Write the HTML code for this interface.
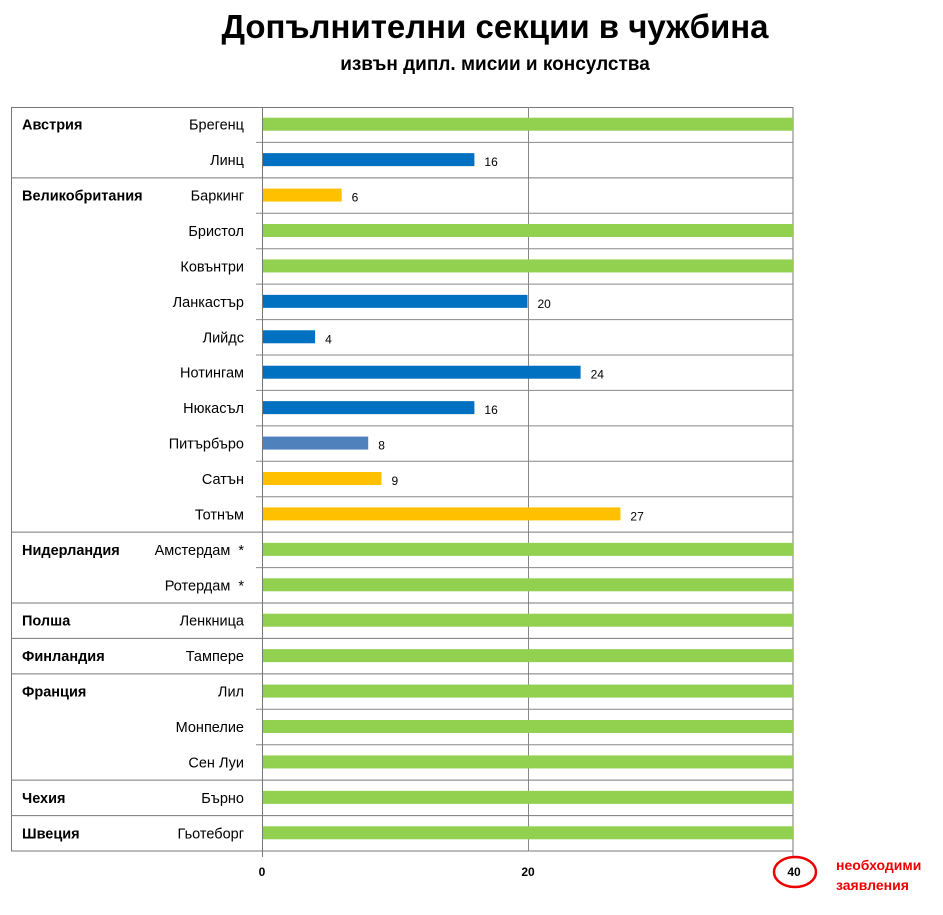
<!DOCTYPE html>
<html><head><meta charset="utf-8"><style>
body{margin:0;background:#fff;}
svg text{font-family:"Liberation Sans","DejaVu Sans",sans-serif;}
</style></head><body>
<svg width="943" height="910" xmlns="http://www.w3.org/2000/svg">
<text x="495" y="38" font-size="33" font-weight="bold" text-anchor="middle">Допълнителни секции в чужбина</text>
<text x="495" y="70" font-size="19" font-weight="bold" text-anchor="middle">извън дипл. мисии и консулства</text>
<g id="c"></g>
</svg>
<script>
(function(){
var rows=[["Австрия","Брегенц",40,"g"],["","Линц",16,"b"],["Великобритания","Баркинг",6,"y"],["","Бристол",40,"g"],["","Ковънтри",40,"g"],["","Ланкастър",20,"b"],["","Лийдс",4,"b"],["","Нотингам",24,"b"],["","Нюкасъл",16,"b"],["","Питърбъро",8,"p"],["","Сатън",9,"y"],["","Тотнъм",27,"y"],["Нидерландия","Амстердам  *",40,"g"],["","Ротердам  *",40,"g"],["Полша","Ленкница",40,"g"],["Финландия","Тампере",40,"g"],["Франция","Лил",40,"g"],["","Монпелие",40,"g"],["","Сен Луи",40,"g"],["Чехия","Бърно",40,"g"],["Швеция","Гьотеборг",40,"g"]];
var col={g:"#92d050",b:"#0070c0",y:"#ffc000",p:"#4f81bd"};
var t0=107,b0=851,h=(b0-t0)/21,sc=(793-262)/40;
var s='<rect x="11.5" y="107.5" width="781.5" height="743.5" fill="none" stroke="#777"/>';
s+='<line x1="528.5" y1="107" x2="528.5" y2="851" stroke="#888"/>';
rows.forEach(function(r,i){var y=t0+i*h,cy=y+h/2;
 if(i>0){ if(r[0]) s+='<line x1="11" y1="'+y+'" x2="793" y2="'+y+'" stroke="#777"/>'; else s+='<line x1="256" y1="'+y+'" x2="793" y2="'+y+'" stroke="#888"/>';}
 if(r[0]) s+='<text x="22" y="'+(cy+5)+'" font-size="14.5" font-weight="bold">'+r[0]+'</text>';
 s+='<text x="244" y="'+(cy+5)+'" font-size="14.5" text-anchor="end" xml:space="preserve">'+r[1]+'</text>';
 s+='<rect x="263" y="'+(cy-7)+'" width="'+(r[2]*sc-1)+'" height="13" fill="'+col[r[3]]+'"/>';
 if(r[2]<40) s+='<text x="'+(263+r[2]*sc+9)+'" y="'+(cy+6)+'" font-size="12">'+r[2]+'</text>';
});
s+='<line x1="262.5" y1="107" x2="262.5" y2="857" stroke="#777"/>';
s+='<line x1="793" y1="851" x2="793" y2="857" stroke="#777"/>';
s+='<text x="262" y="876" font-size="12" font-weight="bold" text-anchor="middle">0</text>';
s+='<text x="528" y="876" font-size="12" font-weight="bold" text-anchor="middle">20</text>';
s+='<text x="794" y="876" font-size="12" font-weight="bold" text-anchor="middle">40</text>';
s+='<ellipse cx="795" cy="872" rx="21" ry="15" fill="none" stroke="#e00" stroke-width="2.5"/>';
s+='<text x="836" y="870" font-size="14" font-weight="bold" fill="#e00">необходими</text>';
s+='<text x="836" y="890" font-size="14" font-weight="bold" fill="#e00">заявления</text>';
document.getElementById('c').innerHTML=s;
})();
</script>
</body></html>
